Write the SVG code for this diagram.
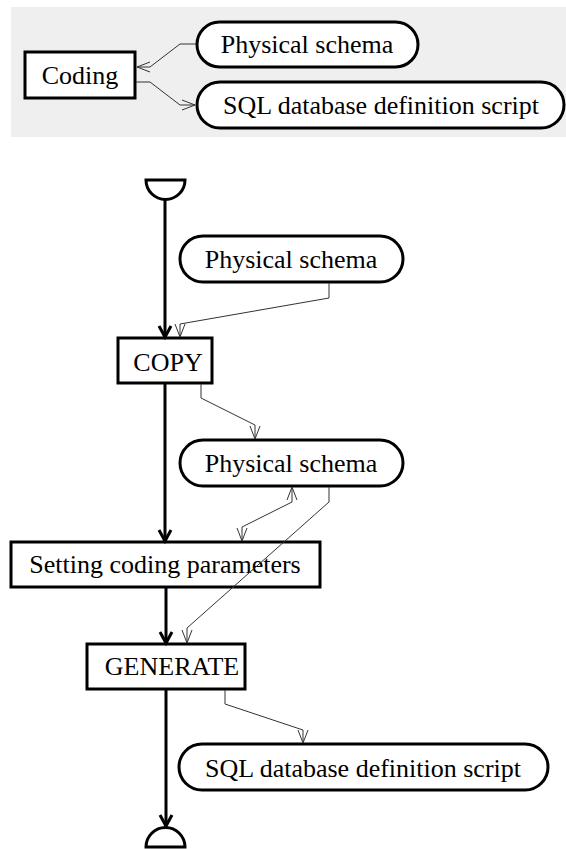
<svg xmlns="http://www.w3.org/2000/svg" width="566" height="849" viewBox="0 0 566 849">
<style>
.box{fill:#fff;stroke:#000;stroke-width:3}
.t{font-family:"Liberation Serif","Times New Roman",serif;font-size:26px;fill:#000;text-anchor:middle}
.main{fill:none;stroke:#000;stroke-width:3;marker-end:url(#ah)}
.thin{fill:none;stroke:#333;stroke-width:1;marker-end:url(#av)}
</style>
<defs>
<marker id="ah" markerUnits="userSpaceOnUse" markerWidth="30" markerHeight="30" viewBox="-15 -15 30 30" refX="0" refY="0" orient="auto"><path d="M-11,-6 L0,0 L-11,6" fill="none" stroke="#000" stroke-width="3"/></marker>
<marker id="av" markerUnits="userSpaceOnUse" markerWidth="30" markerHeight="30" viewBox="-15 -15 30 30" refX="0" refY="0" orient="auto-start-reverse"><path d="M-13,-5 L0,0 L-13,5" fill="none" stroke="#333" stroke-width="1"/></marker>
</defs>
<rect x="11" y="7" width="555" height="130" fill="#efefef"/>
<g id="coding"><rect class="box" x="25" y="52" width="110" height="46"/><text class="t" x="80" y="84">Coding</text></g>
<g id="top-physical"><rect class="box" x="197" y="22" width="221" height="45" rx="22.5"/><text class="t" x="307" y="53">Physical schema</text></g>
<g id="top-sql"><rect class="box" x="197" y="82" width="367" height="46" rx="23"/><text class="t" x="381" y="114">SQL database definition script</text></g>
<g id="start"><path class="box" d="M146 180 H185 A19.5 19.5 0 0 1 146 180 Z"/></g>
<g id="physical1"><rect class="box" x="180" y="236" width="223" height="46" rx="23"/><text class="t" x="291" y="268">Physical schema</text></g>
<g id="copy"><rect class="box" x="118" y="338" width="94" height="45"/><text class="t" x="168" y="371">COPY</text></g>
<g id="physical2"><rect class="box" x="180" y="440" width="223" height="46" rx="23"/><text class="t" x="291" y="472">Physical schema</text></g>
<g id="setting"><rect class="box" x="11" y="542" width="309" height="45"/><text class="t" x="165" y="573">Setting coding parameters</text></g>
<g id="generate"><rect class="box" x="87" y="644" width="158" height="45"/><text class="t" x="172" y="675">GENERATE</text></g>
<g id="sql"><rect class="box" x="179" y="744" width="369" height="46" rx="23"/><text class="t" x="363" y="777">SQL database definition script</text></g>
<g id="end"><path class="box" d="M146 847 A19.5 19.5 0 0 1 185 847 Z"/></g>
<g id="connectors">
<path class="thin" d="M196 44 H180 L150 67 H137"/>
<path class="thin" d="M136 82 H150 L180 105 H195"/>
<path class="main" d="M165 199 V337"/>
<path class="main" d="M165 384 V541"/>
<path class="main" d="M166 588 V643"/>
<path class="main" d="M166 690 V826"/>
<path class="thin" d="M329 283 V298 L180 324 V337"/>
<path class="thin" d="M201 384 V398 L255 425 V439"/>
<path class="thin" style="marker-start:url(#av)" d="M242 541 V527 L292 502 V487"/>
<path class="thin" d="M329 487 V502 L187 628 V643"/>
<path class="thin" d="M225 690 V704 L303 730 V743"/>
</g>
</svg>
